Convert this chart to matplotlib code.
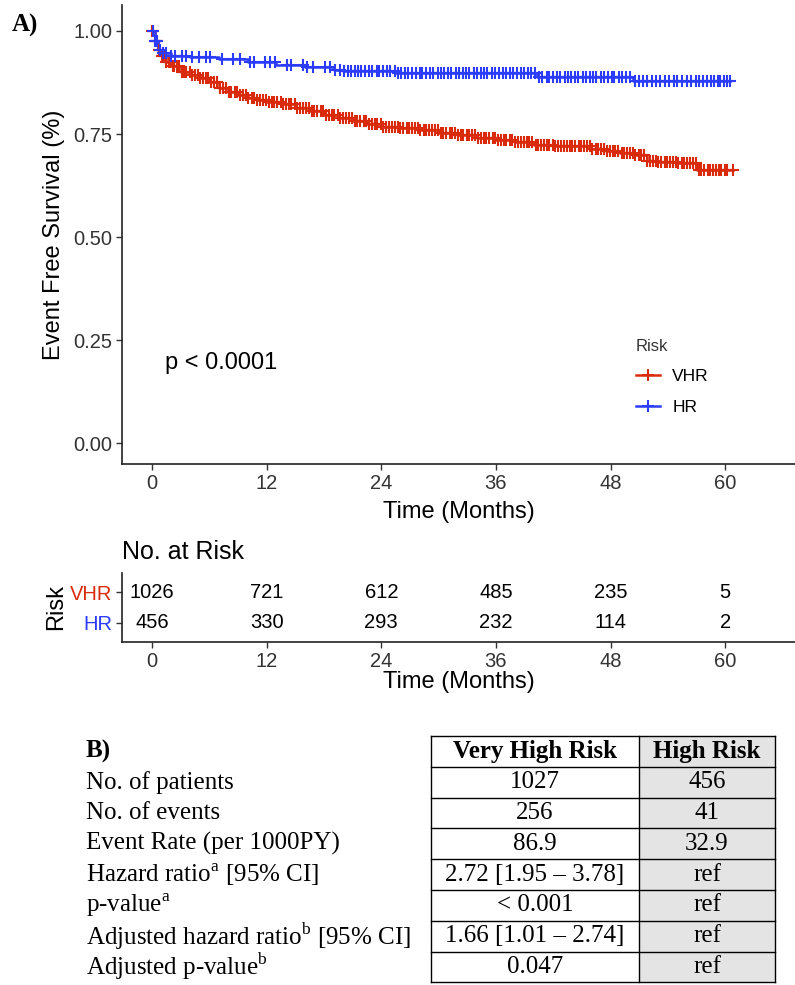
import numpy as np
import matplotlib.pyplot as plt
from matplotlib.lines import Line2D
from matplotlib.patches import Rectangle

plt.rcParams['font.family'] = ['Liberation Sans', 'DejaVu Sans']
plt.rcParams['mathtext.fontset'] = 'custom'
plt.rcParams['mathtext.rm'] = 'Liberation Serif'

W, H = 795, 985
RED = '#DA2A0C'
BLUE = '#2B3CFF'

# Kaplan-Meier step curves (months, survival)
vhr_t = [0, 0.3, 0.6, 1.0, 1.5, 2.0, 3.0, 4.0, 5.0, 6.0, 7.0, 8.0, 9.0, 10.0, 11.0,
         12.0, 13.5, 15.0, 16.5, 18.0, 19.5, 21.0, 22.5, 24.0, 26.0, 28.0, 30.0,
         32.0, 34.0, 36.0, 38.0, 40.0, 42.0, 44.0, 46.0, 47.5, 49.0, 50.5, 51.8,
         53.0, 55.0, 57.0, 60.8]
vhr_s = [1.0, 0.975, 0.955, 0.94, 0.925, 0.915, 0.90, 0.893, 0.886, 0.876, 0.862,
         0.852, 0.845, 0.838, 0.832, 0.828, 0.822, 0.813, 0.805, 0.797, 0.79, 0.782,
         0.775, 0.768, 0.765, 0.76, 0.753, 0.747, 0.74, 0.735, 0.73, 0.724, 0.721,
         0.72, 0.715, 0.708, 0.703, 0.70, 0.685, 0.683, 0.68, 0.662, 0.662]
hr_t = [0, 0.3, 0.6, 1.0, 2.0, 4.0, 7.0, 10.0, 13.0, 16.0, 19.0, 20.0, 25.5, 40.3,
        50.3, 60.5]
hr_s = [1.0, 0.975, 0.955, 0.946, 0.94, 0.938, 0.932, 0.925, 0.918, 0.912, 0.906,
        0.903, 0.899, 0.888, 0.879, 0.879]

# censoring times
vhr_cens = [0.05, 0.15, 0.3, 0.4, 0.55, 0.7, 0.85, 1.0, 1.15, 1.35, 1.5, 1.75, 1.9,
            2.15, 2.3, 2.6, 2.8, 3.1, 3.35, 3.6, 3.95, 4.2, 4.45, 4.8, 5.0, 5.35,
            5.6, 5.85, 6.2, 6.45, 6.8, 7.15, 7.4, 7.7, 8.05, 8.3, 8.65, 8.9, 9.2,
            9.55, 9.8, 10.1, 10.45, 10.7, 11.0, 11.3, 11.65, 11.9, 12.2, 12.55,
            12.8, 13.1, 13.45, 13.7, 14.0, 14.35, 14.6, 14.95, 15.2, 15.5, 15.85,
            16.1, 16.4, 16.75, 17.0, 17.3, 17.65, 17.9, 18.2, 18.55, 18.8, 19.1,
            19.45, 19.7, 20.0, 20.35, 20.6, 20.9, 21.25, 21.5, 21.8, 22.15, 22.4,
            22.7, 23.05, 23.3, 23.6, 23.95, 24.2, 24.5, 24.85, 25.1, 25.4, 25.75,
            26.0, 26.3, 26.65, 26.9, 27.2, 27.55, 27.8, 28.1, 28.45, 28.7, 29.0,
            29.35, 29.6, 29.9, 30.25, 30.5, 30.8, 31.15, 31.4, 31.7, 32.05, 32.3,
            32.6, 32.95, 33.2, 33.5, 33.85, 34.1, 34.4, 34.75, 35.0, 35.3, 35.65,
            35.9, 36.2, 36.55, 36.8, 37.1, 37.45, 37.7, 38.0, 38.35, 38.6, 38.9,
            39.25, 39.5, 39.8, 40.15, 40.4, 40.7, 41.05, 41.3, 41.6, 41.95, 42.2,
            42.5, 42.85, 43.1, 43.4, 43.75, 44.0, 44.3, 44.65, 44.9, 45.2, 45.55,
            45.8, 46.1, 46.45, 46.7, 47.0, 47.35, 47.6, 47.9, 48.25, 48.5, 48.8,
            49.15, 49.4, 49.7, 50.05, 50.3, 50.6, 50.95, 51.2, 51.5, 51.85, 52.1,
            52.4, 52.75, 53.0, 53.3, 53.65, 53.9, 54.2, 54.55, 54.8, 55.1, 55.45,
            55.7, 56.0, 56.35, 56.6, 56.9, 57.25, 57.5, 57.8, 58.15, 58.4, 58.7,
            59.05, 59.3, 59.6, 59.95, 60.2, 60.8]
hr_cens = [0.1, 0.3, 0.5, 0.8, 1.1, 1.5, 2.0, 2.4, 3.1, 3.6, 4.2, 4.9, 5.6, 6.1,
           7.3, 8.5, 9.2, 10.3, 10.7, 11.8, 12.4, 12.9, 14.1, 14.6, 15.8, 16.2,
           16.8, 18.1, 18.6, 19.2, 19.7, 20.1, 20.5, 20.8, 21.2, 21.6, 21.9, 22.3,
           22.7, 23.0, 23.5, 23.8, 24.2, 24.6, 24.9, 25.4, 25.7, 26.1, 26.5, 26.8,
           27.2, 27.6, 28.0, 28.3, 28.7, 29.1, 29.4, 29.9, 30.2, 30.6, 31.0, 31.3,
           31.8, 32.1, 32.5, 32.9, 33.2, 33.7, 34.0, 34.4, 34.8, 35.1, 35.6, 35.9,
           36.3, 36.7, 37.0, 37.5, 37.8, 38.2, 38.6, 38.9, 39.4, 39.7, 40.1, 40.5,
           40.8, 41.3, 41.6, 42.0, 42.4, 42.7, 43.2, 43.5, 43.9, 44.3, 44.6, 45.1,
           45.4, 45.8, 46.2, 46.5, 47.0, 47.3, 47.7, 48.1, 48.4, 48.9, 49.2, 49.6,
           50.0, 50.6, 51.0, 51.4, 51.8, 52.3, 52.8, 53.2, 53.7, 54.1, 54.6, 55.0,
           55.5, 56.0, 56.4, 56.9, 57.3, 57.7, 58.1, 58.5, 58.8, 59.2, 59.5, 59.9,
           60.2, 60.5]

x_ticks = [0, 12, 24, 36, 48, 60]
vhr_risk = [1026, 721, 612, 485, 235, 5]
hr_risk = [456, 330, 293, 232, 114, 2]

# table B
row_labels = ['No. of patients', 'No. of events', 'Event Rate (per 1000PY)',
              'Hazard ratio$^{\\mathrm{a}}$ [95% CI]', 'p-value$^{\\mathrm{a}}$',
              'Adjusted hazard ratio$^{\\mathrm{b}}$ [95% CI]',
              'Adjusted p-value$^{\\mathrm{b}}$']
col_headers = ['Very High Risk', 'High Risk']
vhr_col = ['1027', '256', '86.9', '2.72 [1.95 \u2013 3.78]', '< 0.001',
           '1.66 [1.01 \u2013 2.74]', '0.047']
hr_col = ['456', '41', '32.9', 'ref', 'ref', 'ref', 'ref']


def box(l, t, r, b):
    return [l / W, 1 - b / H, (r - l) / W, (b - t) / H]


def step_at(ts, ss, x):
    idx = np.searchsorted(ts, x, side='right') - 1
    return np.asarray(ss)[idx]


fig = plt.figure(figsize=(W / 100, H / 100), dpi=100)

# ---- KM plot
ax = fig.add_axes(box(122, 5, 795, 464))
ax.step(vhr_t, vhr_s, where='post', color=RED, lw=1.8)
ax.step(hr_t, hr_s, where='post', color=BLUE, lw=1.8)
ax.plot(vhr_cens, step_at(vhr_t, vhr_s, vhr_cens), '+', color=RED, ms=9, mew=1.5)
ax.plot(hr_cens, step_at(hr_t, hr_s, hr_cens), '+', color=BLUE, ms=9, mew=1.5)
ax.set_xlim(-3.14, 67.3)
ax.set_ylim(-0.05, 1.063)
ax.set_xticks(x_ticks)
ax.set_yticks([0, 0.25, 0.5, 0.75, 1.0])
ax.set_yticklabels(['0.00', '0.25', '0.50', '0.75', '1.00'])
ax.set_xlabel('Time (Months)', fontsize=17, labelpad=6)
ax.set_ylabel('Event Free Survival (%)', fontsize=17, labelpad=6)
ax.text(1.36, 0.196, 'p < 0.0001', fontsize=17, ha='left', va='center')

handles = [Line2D([], [], color=RED, marker='+', ms=9, mew=1.5, lw=1.8),
           Line2D([], [], color=BLUE, marker='+', ms=9, mew=1.5, lw=1.8)]
leg = ax.legend(handles, ['VHR', 'HR'], title='Risk', frameon=False, fontsize=12.5,
                title_fontsize=12, loc='upper left', alignment='left',
                bbox_to_anchor=(627 / W, 1 - 330 / H), bbox_transform=fig.transFigure,
                handlelength=1.4, handletextpad=0.7, labelspacing=0.9, borderpad=0)
leg.get_title().set_color('#333333')

# ---- number at risk table
rt = fig.add_axes(box(122, 573, 795, 642))
for x, a, b in zip(x_ticks, vhr_risk, hr_risk):
    rt.text(x, 2, str(a), ha='center', va='center', fontsize=14.5)
    rt.text(x, 1, str(b), ha='center', va='center', fontsize=14.5)
rt.set_xlim(-3.14, 67.3)
rt.set_ylim(0.37, 2.63)
rt.set_xticks(x_ticks)
rt.set_yticks([2, 1])
rt.set_yticklabels(['VHR', 'HR'])
rt.set_xlabel('Time (Months)', fontsize=17, labelpad=0)
rt.set_ylabel('Risk', fontsize=17, labelpad=2)
fig.text(122 / W, 1 - 552 / H, 'No. at Risk', fontsize=18, ha='left', va='center')

for a in (ax, rt):
    for s in ('top', 'right'):
        a.spines[s].set_visible(False)
    for s in ('left', 'bottom'):
        a.spines[s].set_linewidth(1.2)
        a.spines[s].set_color('#222222')
    a.tick_params(length=4, width=1.0, color='#333333', labelsize=14.5,
                  labelcolor='#333333', pad=3)
rt.tick_params(axis='y', labelsize=14.5)
for lab, c in zip(rt.get_yticklabels(), [RED, BLUE]):
    lab.set_color(c)

fig.text(12 / W, 1 - 25 / H, 'A)', fontsize=18, fontweight='bold',
         family='Liberation Serif', ha='left', va='center')

# ---- table B
tb = fig.add_axes([0, 0, 1, 1])
tb.set_xlim(0, W)
tb.set_ylim(H, 0)
tb.axis('off')
col_x = [431, 639, 775]
row_top = 736
row_h = 30.8
n_rows = len(row_labels) + 1
for i in range(n_rows):
    top = row_top + i * row_h
    tb.add_patch(Rectangle((col_x[1], top), col_x[2] - col_x[1], row_h,
                           facecolor='#E4E4E4', edgecolor='none', zorder=1))
for i in range(n_rows + 1):
    y = row_top + i * row_h
    tb.plot([col_x[0], col_x[2]], [y, y], color='black', lw=1.0, zorder=2)
for x in col_x:
    tb.plot([x, x], [row_top, row_top + n_rows * row_h], color='black', lw=1.0, zorder=2)

serif = 'Liberation Serif'
cy = row_top + row_h / 2
tb.text(86, cy, 'B)', fontsize=18, fontweight='bold', family=serif, ha='left', va='center')
for j, h in enumerate(col_headers):
    tb.text((col_x[j] + col_x[j + 1]) / 2, cy, h, fontsize=18, fontweight='bold',
            family=serif, ha='center', va='center')
for i, (lab, a, b) in enumerate(zip(row_labels, vhr_col, hr_col)):
    y = row_top + (i + 1.5) * row_h
    tb.text(86, y, lab, fontsize=18, family=serif, ha='left', va='center')
    tb.text((col_x[0] + col_x[1]) / 2, y, a, fontsize=18, family=serif, ha='center', va='center')
    tb.text((col_x[1] + col_x[2]) / 2, y, b, fontsize=18, family=serif, ha='center', va='center')

fig.savefig('out.png', dpi=100)
